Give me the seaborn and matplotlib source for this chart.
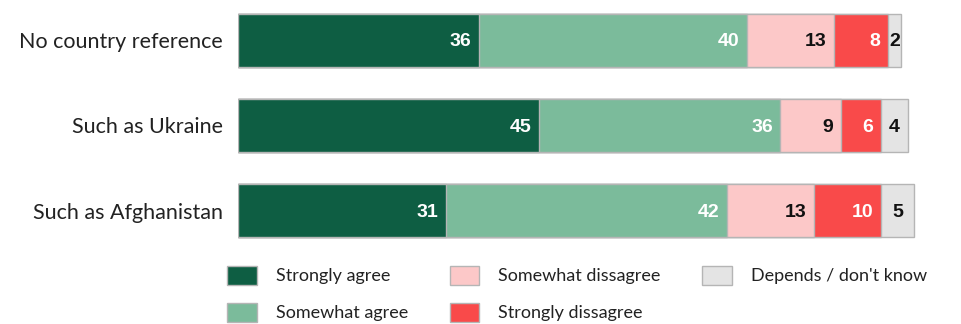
import matplotlib

matplotlib.use("Agg")

import matplotlib.pyplot as plt
import numpy as np
import seaborn as sns
from matplotlib.patches import Patch


categories = ["No country reference", "Such as Ukraine", "Such as Afghanistan"]
responses = [
    "Strongly agree",
    "Somewhat agree",
    "Somewhat dissagree",
    "Strongly dissagree",
    "Depends / don't know",
]
strongly_agree = [36, 45, 31]
somewhat_agree = [40, 36, 42]
somewhat_disagree = [13, 9, 13]
strongly_disagree = [8, 6, 10]
depends = [2, 4, 5]

series = [strongly_agree, somewhat_agree, somewhat_disagree, strongly_disagree, depends]
colors = ["#0e5e43", "#7bbb9b", "#fcc8c8", "#f94a4a", "#e4e4e4"]
text_colors = ["white", "white", "#111111", "white", "#111111"]
EDGE = "#b5b5b5"


def main() -> None:
    sns.set_theme(style="white")
    plt.rcParams["font.family"] = ["Lato", "DejaVu Sans"]

    fig = plt.figure(figsize=(9.62, 3.24), dpi=100)
    ax = fig.add_axes([0.2474, 0.2593, 0.7066, 0.7068])

    values = np.array(series)
    cumulative = values.cumsum(axis=0)

    # stacked bars: draw totals first, then shorter layers on top
    for i in range(len(series) - 1, -1, -1):
        sns.barplot(
            x=cumulative[i],
            y=categories,
            orient="h",
            color=colors[i],
            saturation=1,
            width=0.62,
            edgecolor=EDGE,
            linewidth=1,
            ax=ax,
        )

    for i in range(len(series)):
        for row in range(len(categories)):
            end = cumulative[i][row]
            start = end - values[i][row]
            if i == len(series) - 1:
                xpos, ha = (start + end) / 2, "center"
            else:
                xpos, ha = end - 1.1, "right"
            ax.text(
                xpos,
                row + 0.02,
                str(values[i][row]),
                ha=ha,
                va="center",
                color=text_colors[i],
                fontsize=14,
                fontweight="bold",
                family=["Liberation Sans", "DejaVu Sans"],
            )

    ax.set_xlim(0, 101.5)
    ax.set_ylim(2.34, -0.34)
    ax.set_xlabel("")
    ax.set_ylabel("")
    ax.set_xticks([])
    ax.tick_params(axis="y", length=0, pad=11, labelsize=15.5, labelcolor="#222222")
    sns.despine(ax=ax, left=True, bottom=True)

    handles = [
        Patch(facecolor=c, edgecolor=EDGE, linewidth=1, label=r)
        for c, r in zip(colors, responses)
    ]
    fig.legend(
        handles=handles,
        ncol=3,
        loc="upper left",
        bbox_to_anchor=(0.236, 0.18),
        frameon=False,
        fontsize=13,
        handlelength=1.65,
        handleheight=1.25,
        handletextpad=1.05,
        columnspacing=2.3,
        labelspacing=1.0,
        borderpad=0,
        borderaxespad=0,
        labelcolor="#222222",
    )

    fig.savefig("out.png", dpi=100)
    plt.close(fig)


if __name__ == "__main__":
    main()
